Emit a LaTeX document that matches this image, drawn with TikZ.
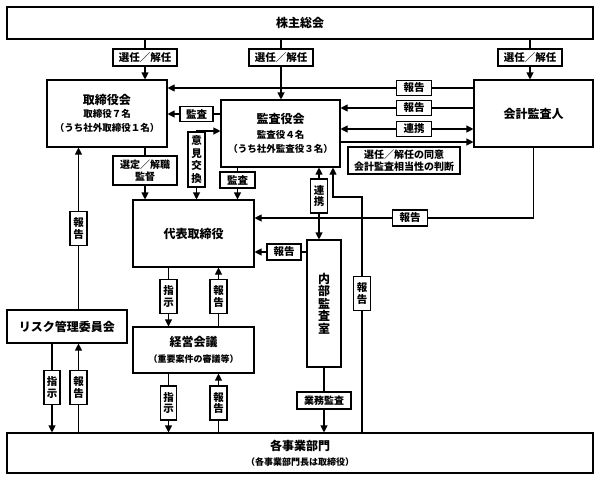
\documentclass[tikz,border=0pt]{standalone}
\usepackage{fontspec}
\setmainfont{Noto Sans CJK JP}
\usetikzlibrary{arrows.meta}

\begin{document}
\begin{tikzpicture}[>={Triangle[length=7pt,width=7pt]},x=1pt,y=-1pt,line width=1.1pt,
  box/.style={draw,rectangle,inner sep=0pt,align=center,font=\bfseries\fontsize{12}{14}\selectfont},
  tag/.style={draw,rectangle,inner sep=0pt,minimum height=17pt,align=center,font=\bfseries\fontsize{10.5}{12}\selectfont},
  vtag/.style={tag,minimum width=17pt,minimum height=34pt,font=\bfseries\fontsize{10.5}{11.5}\selectfont}]

\useasboundingbox (0,0) rectangle (600,480);

% boxes
\node[box,minimum width=586pt,minimum height=32pt] (soukai) at (300,23) {株主総会};
\node[box,minimum width=120pt,minimum height=67pt] (tori) at (107,113.5)
  {取締役会\\[-1pt]{\bfseries\fontsize{9.5}{13}\selectfont 取締役７名}\\{\bfseries\fontsize{9.5}{12}\selectfont （うち社外取締役１名）}};
\node[box,minimum width=119pt,minimum height=67pt] (kansa) at (280.5,133.5)
  {監査役会\\[1pt]{\bfseries\fontsize{9.5}{13}\selectfont 監査役４名}\\{\bfseries\fontsize{9.5}{12}\selectfont （うち社外監査役３名）}};
\node[box,minimum width=119pt,minimum height=67pt] (kaikei) at (533.5,113.5) {会計監査人};
\node[box,minimum width=121pt,minimum height=67pt] (daihyo) at (193.5,233.5) {代表取締役};
\node[box,minimum width=34pt,minimum height=127pt,font=\bfseries\fontsize{12}{12.5}\selectfont] (naibu) at (324,303.5)
  {内\\部\\監\\査\\室};
\node[box,minimum width=120pt,minimum height=33pt] (risk) at (67,326.5) {リスク管理委員会};
\node[box,minimum width=121pt,minimum height=46pt] (keiei) at (193.5,350)
  {経営会議\\[2pt]{\bfseries\fontsize{9}{11}\selectfont （重要案件の審議等）}};
\node[box,minimum width=586pt,minimum height=40pt] (jigyo) at (300,453)
  {各事業部門\\[1pt]{\bfseries\fontsize{9}{11}\selectfont （各事業部門長は取締役）}};

% labels
\node[tag,minimum width=64pt] (sen1) at (145,57.5) {選任／解任};
\node[tag,minimum width=64pt] (sen2) at (281,57.5) {選任／解任};
\node[tag,minimum width=64pt] (sen3) at (530,57.5) {選任／解任};
\node[tag,minimum width=35pt,minimum height=15pt] (hok1) at (414,88) {報告};
\node[tag,minimum width=35pt,minimum height=15pt] (hok2) at (414,108) {報告};
\node[tag,minimum width=35pt,minimum height=15pt] (ren1) at (414,129) {連携};
\node[tag,minimum width=112pt,minimum height=27pt,font=\bfseries\fontsize{10}{12}\selectfont] (doui) at (404,160.5)
  {選任／解任の同意\\会計監査相当性の判断};
\node[tag,minimum width=33pt,minimum height=15pt] (kan1) at (196.5,114) {監査};
\node[vtag,minimum height=55pt,font=\bfseries\fontsize{10.5}{12.5}\selectfont] (iken) at (196.5,159.5) {意\\見\\交\\換};
\node[tag,minimum width=64pt,minimum height=29pt,font=\bfseries\fontsize{10}{12}\selectfont] (sentei) at (145,170.5)
  {選定／解職\\監督};
\node[tag,minimum width=35pt,minimum height=16pt] (kan2) at (237.5,180) {監査};
\node[tag,minimum width=35pt,minimum height=16pt] (hok3) at (410,218) {報告};
\node[tag,minimum width=34pt,minimum height=16pt] (hok4) at (284,252) {報告};
\node[vtag] (ren2) at (319,196) {連\\携};
\node[vtag] (hok5) at (362,293.5) {報\\告};
\node[vtag] (hok6) at (78.5,228.5) {報\\告};
\node[vtag] (shi1) at (168.5,296.5) {指\\示};
\node[vtag] (hok7) at (218.5,296.5) {報\\告};
\node[vtag,minimum width=16pt] (shi2) at (52,387.5) {指\\示};
\node[vtag] (hok8) at (78.5,387.5) {報\\告};
\node[vtag,minimum width=16pt] (shi3) at (168.5,403) {指\\示};
\node[vtag] (hok9) at (218.5,403) {報\\告};
\node[tag,minimum width=54pt,font=\bfseries\fontsize{10}{12}\selectfont] (gyomu) at (324,400.5) {業務監査};

\coordinate (k2k) at (340,142);
\coordinate (ikc) at (196.5,131);
\coordinate (h5c) at (333,197);

% connectors
\draw (soukai.south -| sen1) -- (sen1);
\draw[->] (sen1) -- (tori.north -| sen1);
\draw (soukai.south -| sen2) -- (sen2);
\draw[->] (sen2) -- (kansa.north -| sen2);
\draw (soukai.south -| sen3) -- (sen3);
\draw[->] (sen3) -- (kaikei.north -| sen3);

\draw (kaikei.west |- hok1) -- (hok1);
\draw[->] (hok1) -- (tori.east |- hok1);
\draw (kaikei.west |- hok2) -- (hok2);
\draw[->] (hok2) -- (kansa.east |- hok2);
\draw[->] (ren1) -- (kaikei.west |- ren1);
\draw[->] (ren1) -- (kansa.east |- ren1);
\draw[->] (kansa.east |- k2k) -- (kaikei.west |- k2k);

\draw (kansa.west |- kan1) -- (kan1);
\draw[->] (kan1) -- (tori.east |- kan1);
\draw[->] (iken) -- (ikc) -- (kansa.west |- ikc);
\draw[->] (iken) -- (daihyo.north -| iken);
\draw (tori.south -| sentei) -- (sentei);
\draw[->] (sentei) -- (daihyo.north -| sentei);
\draw (kansa.south -| kan2) -- (kan2);
\draw[->] (kan2) -- (daihyo.north -| kan2);

\draw (kaikei.south) |- (hok3.east);
\draw[->] (hok3) -- (daihyo.east |- hok3);
\draw (naibu.west |- hok4) -- (hok4);
\draw[->] (hok4) -- (daihyo.east |- hok4);
\draw[->] (ren2) -- (kansa.south -| ren2);
\draw[->] (ren2) -- (naibu.north -| ren2);
\draw (jigyo.north -| hok5) -- (hok5);
\draw[->] (hok5.north) |- (h5c) -- (kansa.south -| h5c);

\draw (risk.north -| hok6) -- (hok6);
\draw[->] (hok6) -- (tori.south -| hok6);
\draw (daihyo.south -| shi1) -- (shi1);
\draw[->] (shi1) -- (keiei.north -| shi1);
\draw (keiei.north -| hok7) -- (hok7);
\draw[->] (hok7) -- (daihyo.south -| hok7);

\draw (risk.south -| shi2) -- (shi2);
\draw[->] (shi2) -- (jigyo.north -| shi2);
\draw (jigyo.north -| hok8) -- (hok8);
\draw[->] (hok8) -- (risk.south -| hok8);
\draw (keiei.south -| shi3) -- (shi3);
\draw[->] (shi3) -- (jigyo.north -| shi3);
\draw (jigyo.north -| hok9) -- (hok9);
\draw[->] (hok9) -- (keiei.south -| hok9);
\draw (naibu) -- (gyomu);
\draw[->] (gyomu) -- (jigyo.north -| gyomu);

\end{tikzpicture}
\end{document}
